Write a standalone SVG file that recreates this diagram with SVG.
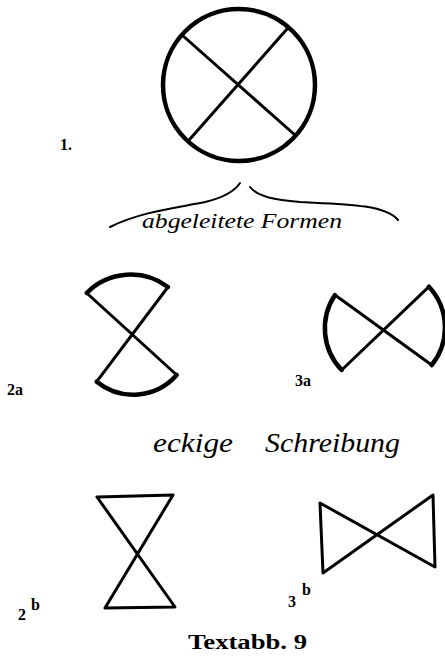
<svg xmlns="http://www.w3.org/2000/svg" width="445" height="656" viewBox="0 0 445 656">
<style>
.ln{fill:none;stroke:#000;stroke-width:3;stroke-linecap:round;stroke-linejoin:round}
.arc{fill:none;stroke:#000;stroke-width:4.5;stroke-linecap:round}
.br{fill:none;stroke:#000;stroke-width:2;stroke-linecap:round}
.hand{font-family:"Liberation Serif","DejaVu Serif",serif;font-style:italic;fill:#000}
.lab{font-family:"Liberation Serif","DejaVu Serif",serif;font-weight:bold;fill:#000;font-size:16px}
.cap{font-family:"Liberation Serif","DejaVu Serif",serif;font-weight:bold;fill:#000;font-size:20px}
</style>
<rect width="445" height="656" fill="#fff"/>
<g id="fig1">
<circle cx="239" cy="85" r="76" class="arc"/>
<path class="ln" d="M182,35 L295,135 M287,29 L190,139"/>
<text class="lab" x="60" y="150">1.</text>
</g>
<g id="brace">
<path class="br" d="M110,227 C140,212 175,208 205,202 C222,198 234,192 240,183"/>
<path class="br" d="M250,187 C258,197 275,200 300,202 C340,204 385,204 398,220"/>
<text class="hand" x="142" y="228" font-size="20" textLength="200" lengthAdjust="spacingAndGlyphs">abgeleitete Formen</text>
</g>
<g id="fig2a">
<path class="arc" d="M86.7,293 A62,62 0 0 1 168,287"/>
<path class="ln" d="M86.7,293 L176.7,375 M168,287 L96.7,381.7"/>
<path class="arc" d="M96.7,381.7 A58,58 0 0 0 176.7,375"/>
<text class="lab" x="7" y="395">2a</text>
</g>
<g id="fig3a">
<path class="arc" d="M335,295 A60,60 0 0 0 341.7,370"/>
<path class="ln" d="M335,295 L431.7,365 M341.7,370 L429,286.7"/>
<path class="arc" d="M429,286.7 A60,60 0 0 1 431.7,365"/>
<text class="lab" x="295" y="386">3a</text>
</g>
<g id="label-eckig">
<text class="hand" x="153" y="452" font-size="28" textLength="80" lengthAdjust="spacingAndGlyphs">eckige</text>
<text class="hand" x="265" y="452" font-size="28" textLength="135" lengthAdjust="spacingAndGlyphs">Schreibung</text>
</g>
<g id="fig2b">
<path class="ln" d="M97,497 L173,495 L105,608 L175,607 Z"/>
<text class="lab" x="18" y="620">2</text>
<text class="lab" x="31" y="610">b</text>
</g>
<g id="fig3b">
<path class="ln" d="M320,503 L323,573 L433,495 L435,567 Z"/>
<text class="lab" x="288" y="607">3</text>
<text class="lab" x="302" y="595">b</text>
</g>
<g id="caption">
<text class="cap" x="188" y="649" textLength="119" lengthAdjust="spacingAndGlyphs">Textabb. 9</text>
</g>
</svg>
